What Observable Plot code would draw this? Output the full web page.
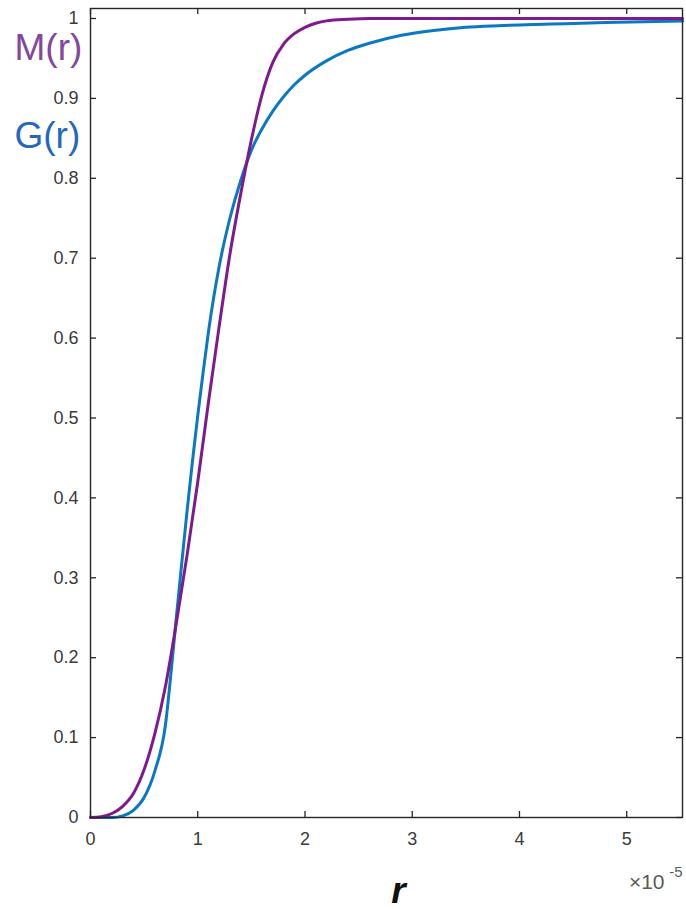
<!DOCTYPE html>
<html>
<head>
<meta charset="utf-8">
<script src="https://cdn.jsdelivr.net/npm/d3@7"></script>
<script src="https://cdn.jsdelivr.net/npm/@observablehq/plot@0.6"></script>
<style>
  html, body { margin: 0; padding: 0; background: #fff; }
  #chart svg { display: block; }
</style>
</head>
<body>
<div id="chart"></div>
<script>
// Radius r, in units of 1e-5 (shown by the ×10^-5 multiplier)
const mR = [0, 0.1, 0.2, 0.3, 0.4, 0.5, 0.6, 0.7, 0.8, 0.9, 1.0, 1.1, 1.2, 1.3, 1.4, 1.5, 1.6, 1.7, 1.8, 1.9, 2.0, 2.1, 2.2, 2.4, 2.6, 3.0, 4.0, 5.52];
const mV = [0, 0.001, 0.005, 0.014, 0.03, 0.06, 0.105, 0.165, 0.243, 0.328, 0.42, 0.52, 0.615, 0.705, 0.78, 0.848, 0.905, 0.945, 0.968, 0.981, 0.989, 0.994, 0.997, 0.999, 1, 1, 1, 1];

const gR = [0, 0.2, 0.3, 0.4, 0.5, 0.6, 0.7, 0.75, 0.8, 0.85, 0.9, 0.95, 1.0, 1.05, 1.1, 1.2, 1.3, 1.4, 1.5, 1.6, 1.7, 1.8, 1.9, 2.0, 2.2, 2.4, 2.6, 2.9, 3.2, 3.5, 3.8, 4.3, 4.8, 5.52];
const gV = [0, 0, 0.002, 0.009, 0.025, 0.058, 0.117, 0.18, 0.25, 0.317, 0.383, 0.445, 0.503, 0.557, 0.608, 0.69, 0.75, 0.797, 0.835, 0.862, 0.884, 0.902, 0.917, 0.929, 0.947, 0.96, 0.969, 0.979, 0.985, 0.989, 0.991, 0.993, 0.995, 0.997];

const xTicks = [0, 1, 2, 3, 4, 5];
const yTicks = [0, 0.1, 0.2, 0.3, 0.4, 0.5, 0.6, 0.7, 0.8, 0.9, 1];

const mData = mR.map((r, i) => ({r, v: mV[i]}));
const gData = gR.map((r, i) => ({r, v: gV[i]}));

const font = "'Liberation Sans', Arial, Helvetica, sans-serif";
const axisColor = "#262626";
const labelColor = "#3a3a3a";
const tickLen = 6;
const innerH = 909 - 8 - 92;
const innerW = 686 - 90 - 4;

const chart = Plot.plot({
  width: 686,
  height: 909,
  marginLeft: 90,
  marginRight: 4,
  marginTop: 8,
  marginBottom: 92,
  style: {fontFamily: font, background: "#fff"},
  x: {domain: [0, 5.52]},
  y: {domain: [0, 1.0125]},
  marks: [
    // tick labels
    Plot.axisX(xTicks, {tickSize: 0, tickPadding: 15, fontSize: 18, fill: labelColor, tickFormat: d => String(d), label: null}),
    Plot.axisY(yTicks, {tickSize: 0, tickPadding: 12, fontSize: 18, fill: labelColor, tickFormat: d => (d === 0 || d === 1) ? String(d) : d.toFixed(1), label: null}),
    // inward ticks on all four sides
    Plot.tickX(xTicks, {x: d => d, insetTop: innerH - tickLen, stroke: axisColor, strokeWidth: 1.3}),
    Plot.tickX(xTicks, {x: d => d, insetBottom: innerH - tickLen, stroke: axisColor, strokeWidth: 1.3}),
    Plot.tickY(yTicks, {y: d => d, insetRight: innerW - tickLen, stroke: axisColor, strokeWidth: 1.3}),
    Plot.tickY(yTicks, {y: d => d, insetLeft: innerW - tickLen, stroke: axisColor, strokeWidth: 1.3}),
    // curves
    Plot.line(gData, {x: "r", y: "v", stroke: "#0a78c2", strokeWidth: 3, curve: "monotone-x"}),
    Plot.line(mData, {x: "r", y: "v", stroke: "#7e1a8e", strokeWidth: 3, curve: "monotone-x"}),
    Plot.frame({stroke: axisColor, strokeWidth: 1.4}),
    // series labels in the left margin
    Plot.text(["M(r)"], {frameAnchor: "top-left", dx: -76, dy: 51, text: d => d, textAnchor: "start", lineAnchor: "bottom", fontSize: 37, fill: "#84479c"}),
    Plot.text(["G(r)"], {frameAnchor: "top-left", dx: -76, dy: 139, text: d => d, textAnchor: "start", lineAnchor: "bottom", fontSize: 37, fill: "#2468bd"}),
    // axis label and exponent multiplier
    Plot.text(["r"], {frameAnchor: "bottom", dx: 12, dy: 85, text: d => d, lineAnchor: "bottom", fontSize: 37, fontWeight: "bold", fontStyle: "italic", fill: "#111"}),
    Plot.text(["×10"], {frameAnchor: "bottom-right", dx: -18, dy: 71, text: d => d, textAnchor: "end", lineAnchor: "bottom", fontSize: 21, fill: "#5a5a5a"}),
    Plot.text(["-5"], {frameAnchor: "bottom-right", dx: 0, dy: 59, text: d => d, textAnchor: "end", lineAnchor: "bottom", fontSize: 15, fill: "#5a5a5a"})
  ]
});

document.getElementById("chart").appendChild(chart);
</script>
</body>
</html>
